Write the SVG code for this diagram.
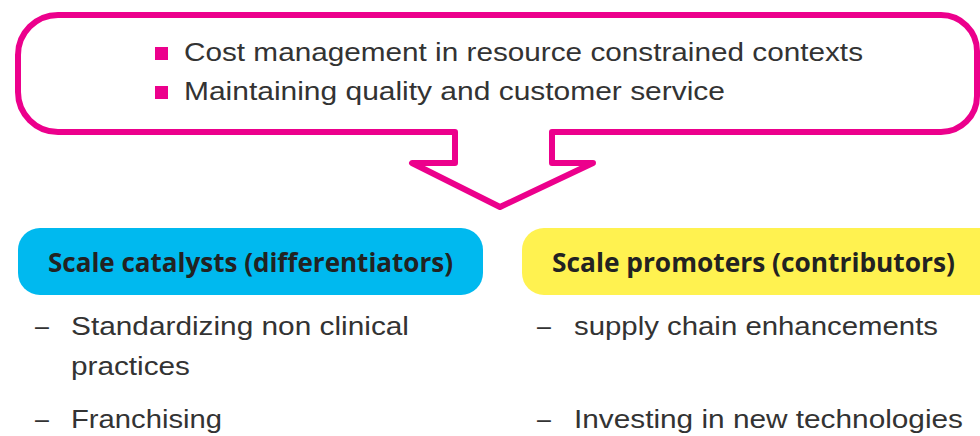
<svg xmlns="http://www.w3.org/2000/svg" width="980" height="436" viewBox="0 0 980 436">
<style>
.body{font-family:"Liberation Sans","Noto Sans",sans-serif;font-size:25px;fill:#333333}
.head{font-family:"Open Sans","Liberation Sans",sans-serif;font-weight:bold;font-size:27px;fill:#222222}
.bul{fill:#EC008C}
</style>
<rect width="980" height="436" fill="#ffffff"/>
<g id="callout">
<path d="M58,15 H941 A36,36 0 0 1 977,51 V96 A36,36 0 0 1 941,132 H552 V163 H593 L500,207 L412,163 H455 V132 H58 A40,40 0 0 1 18,92 V55 A40,40 0 0 1 58,15 Z" fill="none" stroke="#EC008C" stroke-width="6" stroke-linejoin="round"/>
<rect class="bul" x="155" y="47" width="13" height="13"/>
<text class="body" x="184" y="61" textLength="679" lengthAdjust="spacingAndGlyphs">Cost management in resource constrained contexts</text>
<rect class="bul" x="155" y="86" width="13" height="13"/>
<text class="body" x="184" y="100" textLength="541" lengthAdjust="spacingAndGlyphs">Maintaining quality and customer service</text>
</g>
<g id="catalysts">
<rect x="18" y="228" width="465" height="67" rx="22" fill="#00B9EF"/>
<text class="head" x="48" y="272" textLength="405" lengthAdjust="spacingAndGlyphs">Scale catalysts (differentiators)</text>
<text class="body" x="35" y="335">–</text>
<text class="body" x="71" y="335" textLength="338" lengthAdjust="spacingAndGlyphs">Standardizing non clinical</text>
<text class="body" x="71" y="375" textLength="119" lengthAdjust="spacingAndGlyphs">practices</text>
<text class="body" x="35" y="428">–</text>
<text class="body" x="71" y="428" textLength="151" lengthAdjust="spacingAndGlyphs">Franchising</text>
</g>
<g id="promoters">
<path d="M544,228 H980 V295 H544 A22,22 0 0 1 522,273 V250 A22,22 0 0 1 544,228 Z" fill="#FFF250"/>
<text class="head" x="552" y="272" textLength="403" lengthAdjust="spacingAndGlyphs">Scale promoters (contributors)</text>
<text class="body" x="537" y="335">–</text>
<text class="body" x="574" y="335" textLength="364" lengthAdjust="spacingAndGlyphs">supply chain enhancements</text>
<text class="body" x="537" y="428">–</text>
<text class="body" x="574" y="428" textLength="389" lengthAdjust="spacingAndGlyphs">Investing in new technologies</text>
</g>
<g id="connectors"></g>
</svg>
